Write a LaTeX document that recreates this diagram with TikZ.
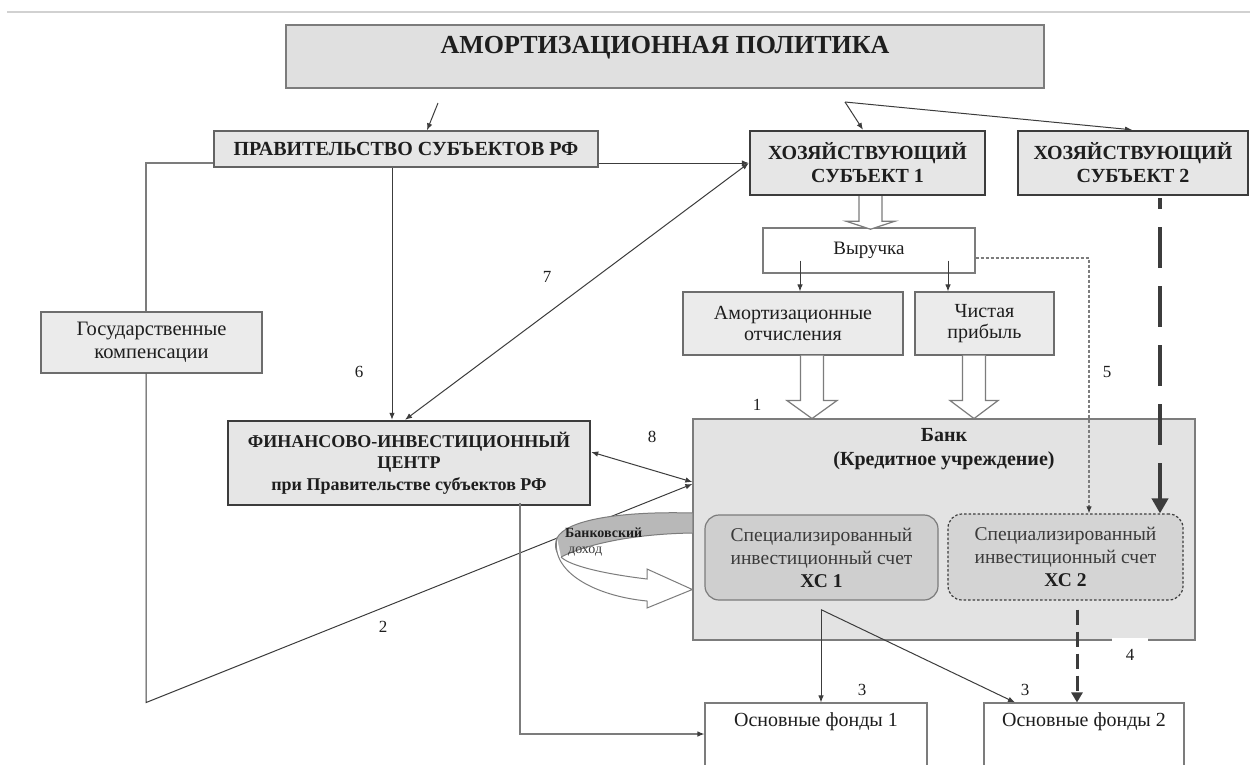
\documentclass[tikz,border=0pt]{standalone}
\usepackage{fontspec}
\setmainfont{Liberation Serif}
\usetikzlibrary{arrows.meta,calc}
\definecolor{bgTitle}{HTML}{E0E0E0}
\definecolor{bgBox}{HTML}{E6E6E6}
\definecolor{bgLight}{HTML}{EBEBEB}
\definecolor{bgBank}{HTML}{E3E3E3}
\definecolor{bgAcc}{HTML}{CFCFCF}
\definecolor{bgAccB}{HTML}{D4D4D4}
\definecolor{ln}{HTML}{3C3C3C}
\definecolor{lnlight}{HTML}{7C7C7C}
\definecolor{txt}{HTML}{1E1E1E}
\definecolor{txtgray}{HTML}{3A3A3A}
\tikzset{
  basebox/.style={rectangle, inner sep=0pt, align=center, text=txt},
  titlebox/.style={basebox, fill=bgTitle, draw=lnlight, line width=1.5pt},
  govbox/.style={basebox, fill=bgBox, draw=ln!80, line width=1.4pt},
  heavybox/.style={basebox, fill=bgBox, draw=ln, line width=2.4pt},
  lightbox/.style={basebox, fill=bgLight, draw=ln!75, line width=1.1pt},
  whitebox/.style={basebox, fill=white, draw=lnlight, line width=1.1pt},
  bankbox/.style={basebox, fill=bgBank, draw=lnlight, line width=1.3pt},
  accbox/.style={basebox, rounded corners=14pt, fill=bgAcc, draw=lnlight, line width=1.2pt},
  accboxb/.style={basebox, rounded corners=14pt, fill=bgAccB, draw=ln, line width=1.2pt, dash pattern=on 2.5pt off 2pt},
  boldtxt/.style={font=\fontsize{20}{23}\selectfont\bfseries},
  regtxt/.style={font=\fontsize{20}{21}\selectfont},
  numlbl/.style={inner sep=1pt, text=txt, font=\fontsize{17}{20}\selectfont},
  conn/.style={draw=ln, line width=1pt, -{Latex[length=7pt,width=5.5pt]}},
  biconn/.style={draw=ln, line width=1pt, {Latex[length=7pt,width=5.5pt]}-{Latex[length=7pt,width=5.5pt]}},
  plainline/.style={draw=lnlight, line width=1.1pt},
  lightconn/.style={draw=lnlight, line width=1.1pt, -{Latex[length=7pt,width=5.5pt,color=ln]}},
  dotconn/.style={draw=lnlight, line width=1.1pt, dash pattern=on 3pt off 2pt, -{Latex[length=7pt,width=5.5pt,color=ln]}},
  heavydash/.style={draw=ln, line width=4pt, dash pattern=on 41pt off 18pt, dash phase=30pt, -{Triangle[length=15pt,width=16pt]}},
  meddash/.style={draw=ln, line width=3pt, dash pattern=on 15pt off 7pt, -{Triangle[length=10pt,width=11pt]}},
  hollow/.style={draw=lnlight, fill=white, line width=1.2pt, line join=miter},
}
\begin{document}
\begin{tikzpicture}[x=1pt,y=-1pt]
\useasboundingbox (0,0) rectangle (1250,764);
\clip (0,0) rectangle (1250,764);
\fill[white] (0,0) rectangle (1250,764);

% top rule
\coordinate (ruleL) at (7,12);
\coordinate (ruleR) at (1250,12);
\draw[draw=black!18, line width=2pt] (ruleL) -- (ruleR);

% boxes
\node[titlebox, minimum width=758pt, minimum height=63pt] (pol) at (665,56.5) {};
\node[text=txt, font=\fontsize{26}{30}\selectfont\bfseries] (polt) at (665,48) {АМОРТИЗАЦИОННАЯ ПОЛИТИКА};

\node[govbox, boldtxt, minimum width=384pt, minimum height=36pt] (gov) at (406,149) {ПРАВИТЕЛЬСТВО СУБЪЕКТОВ РФ};
\node[heavybox, boldtxt, minimum width=235pt, minimum height=64pt] (hs1) at (867.5,163) {ХОЗЯЙСТВУЮЩИЙ\\СУБЪЕКТ 1};
\node[heavybox, boldtxt, minimum width=230pt, minimum height=64pt] (hs2) at (1133,163) {ХОЗЯЙСТВУЮЩИЙ\\СУБЪЕКТ 2};
\node[whitebox, font=\fontsize{19}{22}\selectfont, minimum width=212pt, minimum height=45pt] (rev) at (869,250.5) {Выручка};
\node[lightbox, regtxt, minimum width=220pt, minimum height=63pt] (amort) at (793,323.5) {Амортизационные\\отчисления};
\node[lightbox, regtxt, minimum width=139pt, minimum height=63pt] (profit) at (984.5,323.5) {Чистая\\прибыль};
\node[lightbox, font=\fontsize{20.5}{23}\selectfont, minimum width=221pt, minimum height=61pt] (comp) at (151.5,342.5) {Государственные\\компенсации};
\node[heavybox, font=\fontsize{18}{21.5}\selectfont\bfseries, minimum width=362pt, minimum height=84pt] (fic) at (409,463) {ФИНАНСОВО-ИНВЕСТИЦИОННЫЙ\\ЦЕНТР\\при Правительстве субъектов РФ};

\node[bankbox, minimum width=502pt, minimum height=221pt] (bank) at (944,529.5) {};
\node[text=txt, align=center, font=\fontsize{20}{24}\selectfont\bfseries] (bankt) at (944,449) {Банк\\(Кредитное учреждение)};
\node[accbox, text=txtgray, font=\fontsize{19.5}{23}\selectfont, minimum width=233pt, minimum height=85pt] (acc1) at (821.5,557.5) {Специализированный\\инвестиционный счет\\\textcolor{txt}{\bfseries ХС 1}};
\node[accboxb, text=txtgray, font=\fontsize{19.5}{23}\selectfont, minimum width=235pt, minimum height=86pt] (acc2) at (1065.5,557) {Специализированный\\инвестиционный счет\\\textcolor{txt}{\bfseries ХС 2}};

\node[whitebox, minimum width=222pt, minimum height=76pt] (of1) at (816,741) {};
\node[text=txt, font=\fontsize{20}{23}\selectfont] (of1t) at (816,722) {Основные фонды 1};
\node[whitebox, minimum width=200pt, minimum height=76pt] (of2) at (1084,741) {};
\node[text=txt, font=\fontsize{20}{23}\selectfont] (of2t) at (1084,722) {Основные фонды 2};

% connectors from the policy box
\coordinate (polA) at (438,103);
\coordinate (polB) at (845,102);
\draw[conn] (polA) -- ($(gov.north)+(21,0)$);
\draw[conn] (polB) -- ($(hs1.north)+(-4.5,0)$);
\draw[conn] (polB) -- ($(hs2.north)+(-1,0)$);

% government connections
\draw[conn] ($(gov.east)+(0,14)$) -- (hs1.west);
\draw[plainline] ($(gov.west)+(0,14)$) -| ($(comp.north)+(-5.5,0)$);
\draw[conn] ($(gov.south)+(-14,0)$) -- ($(fic.north)+(-17,0)$);
\draw[biconn] ($(fic.north)+(-4,0)$) -- (hs1.west);
\draw[conn] ($(comp.south)+(-5.5,0)$) -- ++(0,329) -- ($(bank.west)+(0,-45.5)$);
\draw[biconn] ($(fic.east)+(0,-11)$) -- ($(bank.west)+(0,-47.5)$);

% hollow arrows
\draw[hollow] ($(hs1.south)+(3,0)$) ++(-11.5,0) -- ++(0,25) -- ++(-13,0) -- ++(24.5,8) -- ++(24.5,-8) -- ++(-13,0) -- ++(0,-25);
\draw[hollow] ($(amort.south)+(19,0)$) ++(-11.5,0) -- ++(0,45) -- ++(-13.5,0) -- ++(25,18) -- ++(25,-18) -- ++(-13.5,0) -- ++(0,-45);
\draw[hollow] ($(profit.south)+(-10.5,0)$) ++(-11.5,0) -- ++(0,45) -- ++(-12.5,0) -- ++(24,18) -- ++(24,-18) -- ++(-12.5,0) -- ++(0,-45);

% revenue split
\draw[conn] ($(rev.south)+(-69,-13)$) -- ($(amort.north)+(7,0)$);
\draw[conn] ($(rev.south)+(79,-13)$) -- ($(profit.north)+(-36.5,0)$);
\draw[dotconn] ($(rev.east)+(0,7.5)$) -| ($(acc2.north)+(23.5,0)$);

% enterprise 2 heavy dashed
\draw[heavydash] ($(hs2.south)+(27,2)$) -- ($(acc2.north)+(94.5,0)$);
\draw[meddash] ($(acc2.south)+(11.5,9)$) -- ($(of2.north)+(-7,0)$);

% account 1 outputs
\coordinate (acc1out) at ($(acc1.south)+(-0.5,9)$);
\draw[conn] (acc1out) -- ($(of1.north)+(5,0)$);
\draw[conn] (acc1out) -- ($(of2.north)+(-69,0)$);

% FIC to fixed assets 1
\draw[lightconn] ($(fic.south)+(111,-3)$) |- ($(of1.west)+(0,-7)$);

% bank income loop
\path[fill=black!28, draw=lnlight, line width=1pt] ($(bank.west)+(0,-16.5)$) .. controls (620,511) and (566,520) .. (557,538) .. controls (554,546) and (556,554) .. (561,557) .. controls (585,545) and (630,534) .. ($(bank.west)+(0,3.5)$);
\path[hollow, line width=1pt] (557,538) .. controls (550,572) and (595,596) .. (647,601) -- (647,608) -- ($(bank.west)+(0,60)$) -- (647,569) -- (647,579) .. controls (605,574) and (570,566) .. (561,557);
\node[anchor=west, inner sep=0pt, text=txt, font=\fontsize{14}{15}\selectfont\bfseries] (inc1) at (565,533) {Банковский};
\node[anchor=west, inner sep=0pt, text=txtgray, font=\fontsize{14}{15}\selectfont] (inc2) at (568,552) {доход};

% labels
\node[numlbl] (n1) at (757,405) {1};
\node[numlbl] (n2) at (383,627) {2};
\node[numlbl] (n3a) at (862,690) {3};
\node[numlbl] (n3b) at (1025,690) {3};
\node[numlbl, fill=white, minimum width=36pt, minimum height=34pt] (n4) at (1130,655) {4};
\node[numlbl] (n5) at (1107,372) {5};
\node[numlbl] (n6) at (359,372) {6};
\node[numlbl] (n7) at (547,277) {7};
\node[numlbl] (n8) at (652,437) {8};
\end{tikzpicture}
\end{document}
